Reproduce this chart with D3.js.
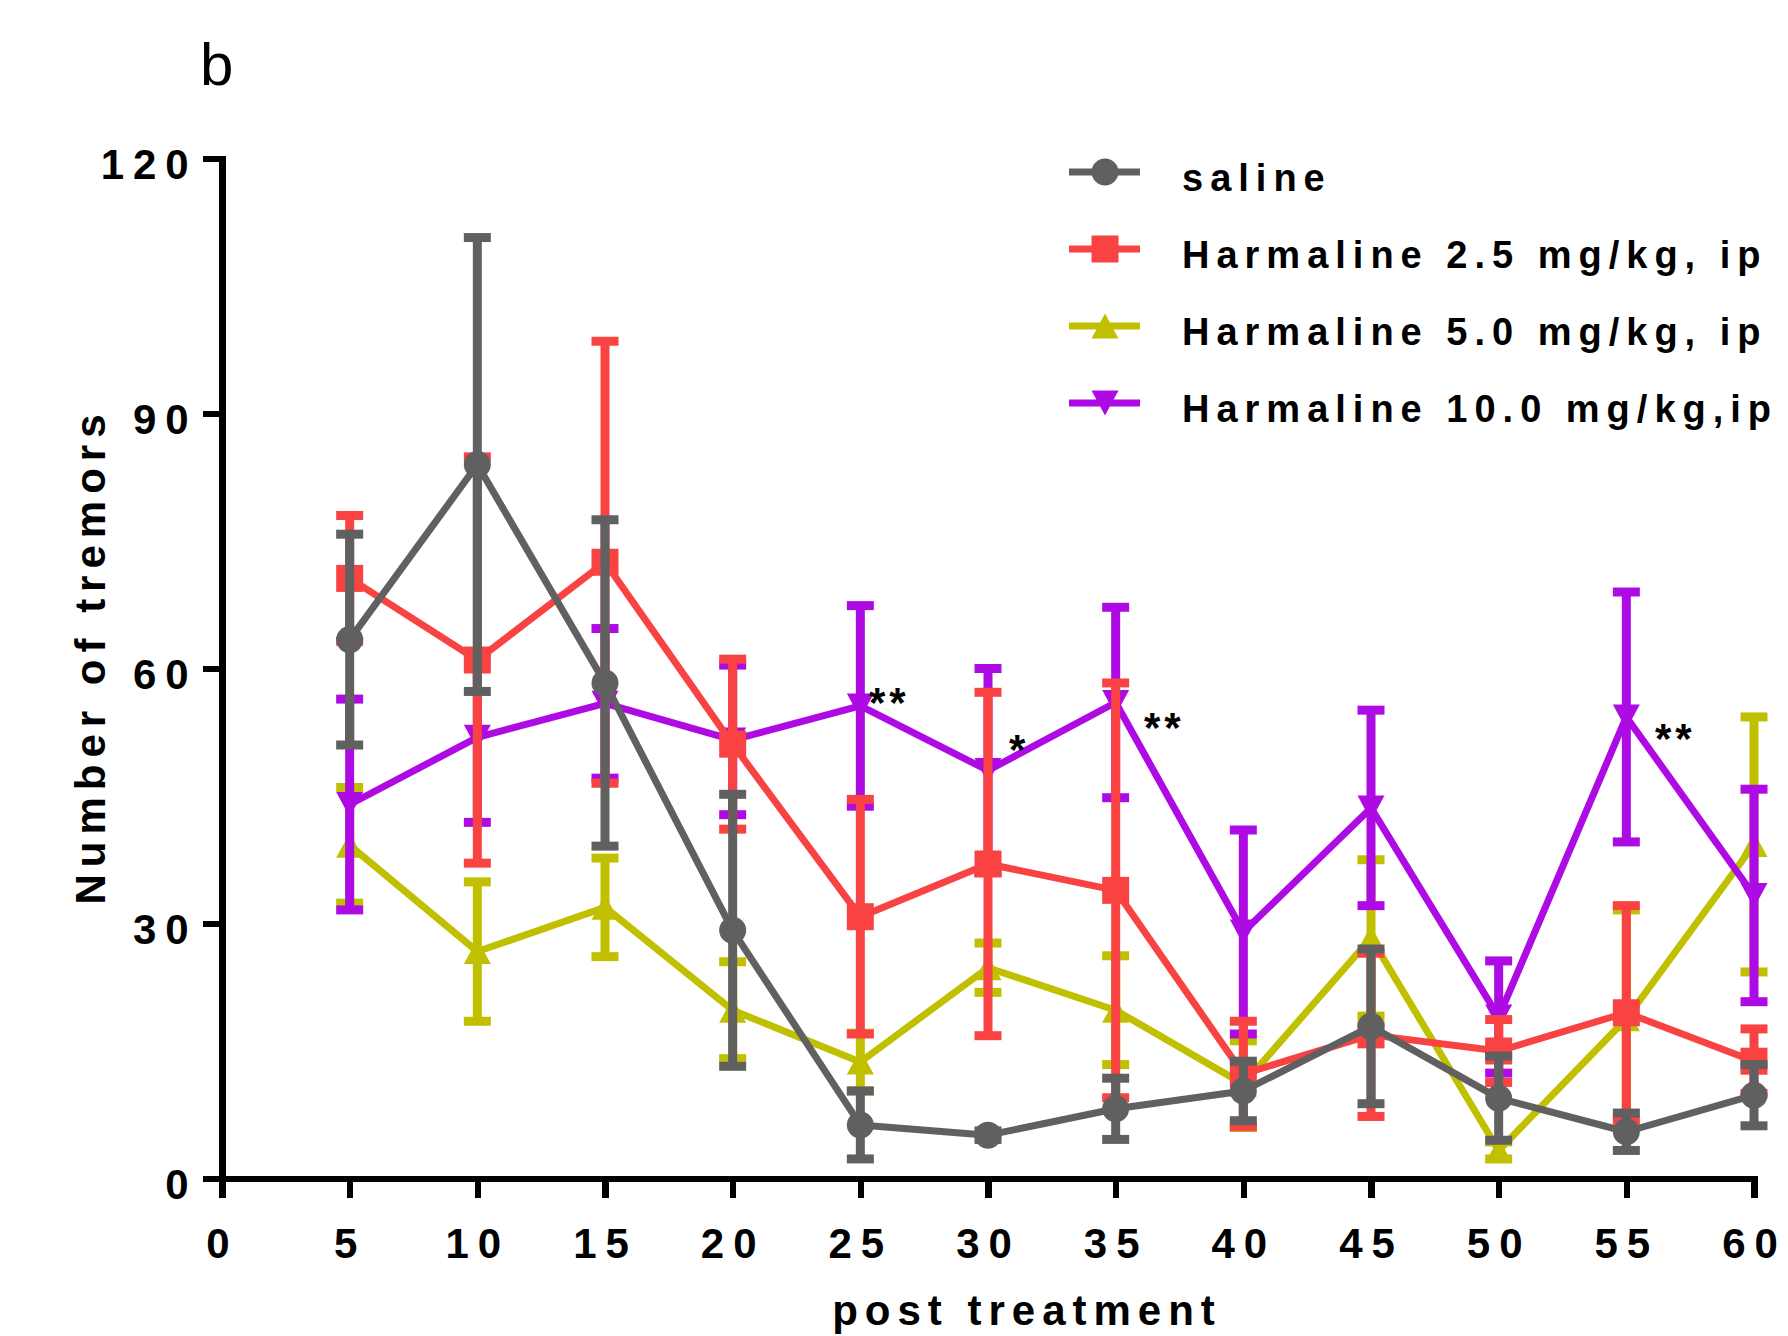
<!DOCTYPE html>
<html><head><meta charset="utf-8">
<script src="https://cdn.jsdelivr.net/npm/d3@7"></script>
<style>html,body{margin:0;padding:0;background:#fff;overflow:hidden}</style>
</head><body><div id="chart"></div>
<script>
// ---- data ----
const times = [5,10,15,20,25,30,35,40,45,50,55,60];
const seriesNames = ["saline","Harmaline 2.5 mg/kg, ip","Harmaline 5.0 mg/kg, ip","Harmaline 10.0 mg/kg,ip"];
const salineMean = [63.4, 84.0, 58.3, 29.2, 6.3, 5.1, 8.2, 10.3, 17.9, 9.45, 5.5, 9.8];
const salineSem  = [12.4, 26.7, 19.2, 16.0, 4.0, 0.5, 3.6, 3.5, 9.1, 4.95, 2.2, 3.6];
const harm25Mean = [70.6, 61.0, 72.5, 51.1, 30.8, 37.0, 33.9, 12.3, 16.9, 15.0, 19.5, 13.8];
const harm25Sem  = [7.4, 23.9, 26.0, 10.0, 13.8, 20.2, 24.4, 6.2, 9.6, 3.7, 12.6, 3.8];
const harm50Mean = [39.2, 26.7, 31.9, 19.8, 13.7, 24.8, 19.8, 11.1, 28.3, 3.3, 18.8, 39.3];
const harm50Sem  = [6.8, 8.2, 5.8, 5.7, 3.4, 2.9, 6.4, 5.1, 9.2, 1.0, 12.8, 15.0];
const harm100Mean = [44.0, 51.9, 55.9, 51.6, 55.6, 48.0, 56.0, 29.0, 43.6, 19.0, 54.3, 33.3];
const harm100Sem  = [12.4, 10.0, 8.8, 8.8, 11.8, 12.0, 11.2, 12.0, 11.5, 6.6, 14.7, 12.5];
const xTickValues = [0,5,10,15,20,25,30,35,40,45,50,55,60];
const yTickValues = [0,30,60,90,120];
const starLabels = ["**","*","**","**"];
const starTimes  = [25.34, 30.82, 36.11, 56.12];
const starValues = [54.3, 48.8, 51.4, 50.1];
const panelLabel = "b";
const yTitle = "Number of tremors";
const xTitle = "post treatment";

// ---- layout / style ----
const W = 1788, H = 1336;
const FONT = "'Liberation Sans', Arial, Helvetica, sans-serif";
const colors = ["#606060", "#F94343", "#C0C000", "#AE0AE4"];
const shapes = ["circle", "square", "triUp", "triDown"];
const means = [salineMean, harm25Mean, harm50Mean, harm100Mean];
const sems = [salineSem, harm25Sem, harm50Sem, harm100Sem];

const svg = d3.select("#chart").append("svg").attr("width", W).attr("height", H)
  .style("background", "#fff");

const x = d3.scaleLinear().domain([0, 60]).range([222, 1754]);
const y = d3.scaleLinear().domain([0, 120]).range([1178.5, 158.5]);

const AXW = 6.5, TICK = 19, TLS = 9;

// panel label
svg.append("text").attr("x", 200).attr("y", 85)
  .attr("font-family", FONT).attr("font-size", 60).attr("fill", "#000")
  .text(panelLabel);

// x axis
const gx = svg.append("g").attr("transform", `translate(0,${y(0)})`)
  .call(d3.axisBottom(x).tickValues(xTickValues).tickFormat(d3.format("d")).tickSize(TICK).tickSizeOuter(0));
gx.select(".domain").attr("stroke", "#000").attr("stroke-width", AXW).attr("stroke-linecap", "square");
gx.selectAll(".tick line").attr("stroke", "#000").attr("stroke-width", AXW);
gx.selectAll(".tick text").attr("y", 79.5).attr("dy", null)
  .attr("font-family", FONT).attr("font-weight", "bold").attr("font-size", 42)
  .attr("letter-spacing", TLS).attr("fill", "#000");

// y axis
const gy = svg.append("g").attr("transform", `translate(${x(0)},0)`)
  .call(d3.axisLeft(y).tickValues(yTickValues).tickFormat(d3.format("d")).tickSize(TICK).tickSizeOuter(0));
gy.select(".domain").attr("stroke", "#000").attr("stroke-width", AXW).attr("stroke-linecap", "square");
gy.selectAll(".tick line").attr("stroke", "#000").attr("stroke-width", AXW);
gy.selectAll(".tick text").attr("x", -33.3 + TLS).attr("y", 19.5).attr("dy", null)
  .attr("font-family", FONT).attr("font-weight", "bold").attr("font-size", 42)
  .attr("letter-spacing", TLS).attr("fill", "#000");
svg.selectAll(".tick line, .domain").attr("shape-rendering", "crispEdges");

// axis titles
svg.append("text").attr("transform", "translate(105,656) rotate(-90)")
  .attr("text-anchor", "middle").attr("font-family", FONT).attr("font-weight", "bold")
  .attr("font-size", 42).attr("letter-spacing", 7).attr("fill", "#000").text(yTitle);
svg.append("text").attr("x", 1027).attr("y", 1325)
  .attr("text-anchor", "middle").attr("font-family", FONT).attr("font-weight", "bold")
  .attr("font-size", 42).attr("letter-spacing", 7).attr("fill", "#000").text(xTitle);

// marker drawing
const MS = 27;
function marker(g, shape, cx, cy, color) {
  const h = MS / 2;
  if (shape === "circle") {
    g.append("circle").attr("cx", cx).attr("cy", cy).attr("r", h).attr("fill", color);
  } else if (shape === "square") {
    g.append("rect").attr("x", cx - h).attr("y", cy - h).attr("width", MS).attr("height", MS).attr("fill", color);
  } else if (shape === "triUp") {
    g.append("path").attr("d", `M${cx - h},${cy + 12.5}L${cx + h},${cy + 12.5}L${cx},${cy - 12.5}Z`).attr("fill", color);
  } else {
    g.append("path").attr("d", `M${cx - h},${cy - 12.5}L${cx + h},${cy - 12.5}L${cx},${cy + 12.5}Z`).attr("fill", color);
  }
}

// series: draw order yellow, purple, red, gray (gray on top)
const order = [2, 3, 1, 0];
const line = d3.line().x(d => x(d.t)).y(d => y(d.m));
order.forEach(si => {
  const color = colors[si];
  const data = times.map((t, i) => ({ t, m: means[si][i], s: sems[si][i] }));
  const g = svg.append("g").attr("class", "series s" + si);
  const eb = g.append("g");
  data.forEach(d => {
    eb.append("line").attr("x1", x(d.t)).attr("x2", x(d.t))
      .attr("y1", y(d.m + d.s)).attr("y2", y(d.m - d.s))
      .attr("stroke", color).attr("stroke-width", 9);
    [d.m + d.s, d.m - d.s].forEach(v => {
      eb.append("line").attr("x1", x(d.t) - MS / 2).attr("x2", x(d.t) + MS / 2)
        .attr("y1", y(v)).attr("y2", y(v)).attr("stroke", color).attr("stroke-width", 9);
    });
  });
  g.append("path").datum(data).attr("d", line).attr("fill", "none")
    .attr("stroke", color).attr("stroke-width", 7).attr("stroke-linejoin", "round");
  data.forEach(d => marker(g, shapes[si], x(d.t), y(d.m), color));
});

// significance stars
svg.selectAll("text.star").data(starLabels).enter().append("text").attr("class", "star")
  .attr("x", (d, i) => x(starTimes[i])).attr("y", (d, i) => y(starValues[i]))
  .attr("font-family", FONT).attr("font-weight", "bold").attr("font-size", 42)
  .attr("letter-spacing", 4).attr("fill", "#000").text(d => d);

// legend
const legRowY = [172, 249, 326, 403];
const lg = svg.append("g");
seriesNames.forEach((name, i) => {
  const cy = legRowY[i];
  lg.append("line").attr("x1", 1069).attr("x2", 1140).attr("y1", cy).attr("y2", cy)
    .attr("stroke", colors[i]).attr("stroke-width", 7);
  marker(lg, shapes[i], 1105, cy, colors[i]);
  lg.append("text").attr("x", 1182).attr("y", cy + 19)
    .attr("font-family", FONT).attr("font-weight", "bold").attr("font-size", 38)
    .attr("letter-spacing", 7).attr("fill", "#000").text(name);
});
</script>
</body></html>
